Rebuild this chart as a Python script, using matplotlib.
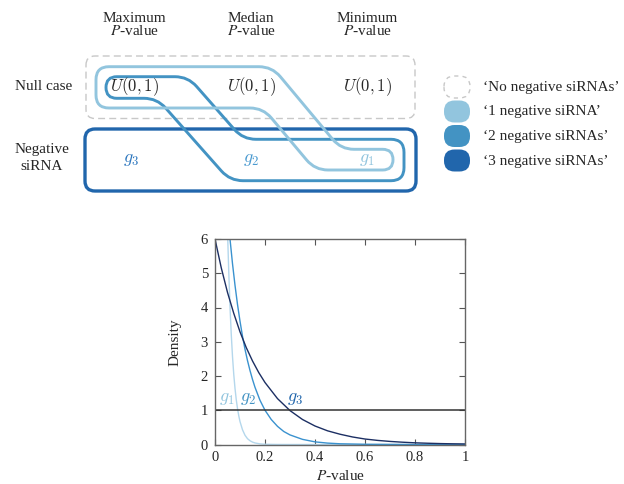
import numpy as np
import matplotlib
matplotlib.use("Agg")
import matplotlib.pyplot as plt
from matplotlib.path import Path
from matplotlib.patches import PathPatch

plt.rcParams['font.family'] = ['Liberation Serif', 'DejaVu Serif']
plt.rcParams['mathtext.fontset'] = 'cm'

####################### data #############
p_g1 = [0.051, 0.055, 0.06, 0.065, 0.07, 0.075, 0.08, 0.085, 0.09, 0.095, 0.10,
        0.11, 0.12, 0.13, 0.14, 0.15, 0.16, 0.18, 0.2, 0.25, 0.3, 0.5, 1.0]
d_g1 = [6.0, 5.05, 4.03, 3.22, 2.57, 2.05, 1.64, 1.31, 1.05, 0.84, 0.67,
        0.43, 0.27, 0.17, 0.11, 0.07, 0.045, 0.018, 0.007, 0.001, 0.0, 0.0, 0.0]

p_g2 = [0.06, 0.07, 0.08, 0.09, 0.1, 0.11, 0.12, 0.13, 0.14, 0.15, 0.16, 0.18,
        0.2, 0.225, 0.25, 0.275, 0.3, 0.35, 0.4, 0.45, 0.5, 0.6, 0.7, 0.8, 1.0]
d_g2 = [6.0, 5.28, 4.65, 4.09, 3.6, 3.16, 2.78, 2.45, 2.16, 1.9, 1.67, 1.29,
        1.0, 0.73, 0.53, 0.38, 0.28, 0.15, 0.077, 0.041, 0.021, 0.006, 0.002, 0.0, 0.0]

p_g3 = [0, 0.025, 0.05, 0.075, 0.1, 0.125, 0.15, 0.175, 0.2, 0.25, 0.3, 0.35,
        0.4, 0.45, 0.5, 0.55, 0.6, 0.65, 0.7, 0.75, 0.8, 0.85, 0.9, 0.95, 1.0]
d_g3 = [6.0, 5.16, 4.44, 3.83, 3.29, 2.83, 2.44, 2.10, 1.81, 1.34, 0.99, 0.73,
        0.54, 0.40, 0.30, 0.22, 0.16, 0.12, 0.09, 0.067, 0.049, 0.037, 0.027, 0.02, 0.015]

null_density = 1.0

columns = ['Maximum', 'Median', 'Minimum']
legend_labels = ['\u2018No negative siRNAs\u2019', '\u20181 negative siRNA\u2019',
                 '\u20182 negative siRNAs\u2019', '\u20183 negative siRNAs\u2019']

c_light = '#92c5de'
c_mid = '#4393c3'
c_dark = '#2166ac'
txt = '#262626'


def rounded(pts, r):
    # closed polygon with each corner smoothed by a quadratic curve
    n = len(pts)
    verts = []
    codes = []
    for i in range(n):
        p0 = np.array(pts[i - 1], float)
        p1 = np.array(pts[i], float)
        p2 = np.array(pts[(i + 1) % n], float)
        d1 = p0 - p1
        d2 = p2 - p1
        l1 = np.hypot(*d1)
        l2 = np.hypot(*d2)
        rr = min(r, l1 / 2, l2 / 2)
        a = p1 + d1 / l1 * rr
        b = p1 + d2 / l2 * rr
        verts.append(a)
        codes.append(Path.MOVETO if i == 0 else Path.LINETO)
        verts += [p1, b]
        codes += [Path.CURVE3, Path.CURVE3]
    verts.append(verts[0])
    codes.append(Path.CLOSEPOLY)
    return Path(verts, codes)


def box(x0, y0, x1, y1):
    return [(x0, y0), (x1, y0), (x1, y1), (x0, y1)]


fig = plt.figure(figsize=(6.24, 4.84), dpi=100)

####################### diagram (pixel coordinates) #############
ax0 = fig.add_axes([0, 0, 1, 1])
ax0.set_xlim(0, 624)
ax0.set_ylim(484, 0)
ax0.axis('off')

col_x = [134, 251, 367]
for cx, name in zip(col_x, columns):
    ax0.text(cx, 18, name, ha='center', va='center', fontsize=11, color=txt)
    ax0.text(cx, 31, '$P$-value', ha='center', va='center', fontsize=11,
             color=txt, math_fontfamily='stix')
    ax0.text(cx, 87, '$U(0,1)$', ha='center', va='center', fontsize=12, color=txt)

ax0.text(44, 87, 'Null case', ha='center', va='center', fontsize=11, color=txt)
ax0.text(42, 149, 'Negative', ha='center', va='center', fontsize=11, color=txt)
ax0.text(42, 167, 'siRNA', ha='center', va='center', fontsize=11, color=txt)

ax0.add_patch(PathPatch(rounded(box(86, 56, 415, 118.5), 9), fill=False,
                        ec='#c8c8c8', lw=1.0, ls=(0, (5, 3))))
ax0.add_patch(PathPatch(rounded(box(85, 129, 416, 191), 10), fill=False,
                        ec=c_dark, lw=2.4))

mid_pts = [(106, 76.7), (188, 76.7), (243, 139.3), (404, 139.3), (404, 180.7),
           (230, 180.7), (157, 98.3), (106, 98.3)]
ax0.add_patch(PathPatch(rounded(mid_pts, 13), fill=False, ec=c_mid, lw=2.1))

light_pts = [(96, 66.7), (272, 66.7), (341, 149.3), (393, 149.3), (393, 170),
             (315, 170), (263, 108), (96, 108)]
ax0.add_patch(PathPatch(rounded(light_pts, 13), fill=False, ec=c_light, lw=2.1))

ax0.text(131, 159, '$g_3$', ha='center', va='center', fontsize=13, color='#2f78bf')
ax0.text(251, 159, '$g_2$', ha='center', va='center', fontsize=13, color='#4a9ad0')
ax0.text(367, 159, '$g_1$', ha='center', va='center', fontsize=13, color=c_light)

# legend blobs
leg_y = [87, 111.5, 136, 160.5]
for i, (ly, lab) in enumerate(zip(leg_y, legend_labels)):
    pth = rounded(box(444, ly - 11, 470, ly + 11), 10.5)
    if i == 0:
        ax0.add_patch(PathPatch(pth, fill=False, ec='#c8c8c8', lw=1.0, ls=(0, (3, 3))))
    else:
        ax0.add_patch(PathPatch(pth, fc=[c_light, c_mid, c_dark][i - 1], ec='none'))
    ax0.text(483, ly + 0.5, lab, ha='left', va='center', fontsize=11, color=txt)

####################### density plot #############
ax = fig.add_axes([215 / 624, 39.5 / 484, 250 / 624, 205.5 / 484])
ax.plot(p_g1, d_g1, color='#b4d7ec', lw=1.0)
ax.plot(p_g2, d_g2, color='#3a92cf', lw=1.0)
ax.plot(p_g3, d_g3, color='#1c2f63', lw=1.0)
ax.axhline(null_density, color='#333333', lw=1.1)

ax.text(0.046, 1.33, '$g_1$', ha='center', va='center', fontsize=13, color=c_light)
ax.text(0.134, 1.33, '$g_2$', ha='center', va='center', fontsize=13, color=c_mid)
ax.text(0.322, 1.33, '$g_3$', ha='center', va='center', fontsize=13, color=c_dark)

ax.set_xlim(0, 1)
ax.set_ylim(0, 6)
ax.set_xticks([0, 0.2, 0.4, 0.6, 0.8, 1])
ax.set_xticklabels(['0', '0.2', '0.4', '0.6', '0.8', '1'])
ax.set_yticks(range(7))
ax.tick_params(direction='in', top=True, right=True, length=4, width=0.8,
               color='#555555', labelcolor=txt, labelsize=10.5, pad=5)
for s in ax.spines.values():
    s.set_color('#666666')
    s.set_linewidth(1.0)
ax.set_xlabel('$P$-value', fontsize=11, color=txt, math_fontfamily='stix', labelpad=3)
ax.set_ylabel('Density', fontsize=11, color=txt, labelpad=14)

fig.savefig('out.png', dpi=100)
